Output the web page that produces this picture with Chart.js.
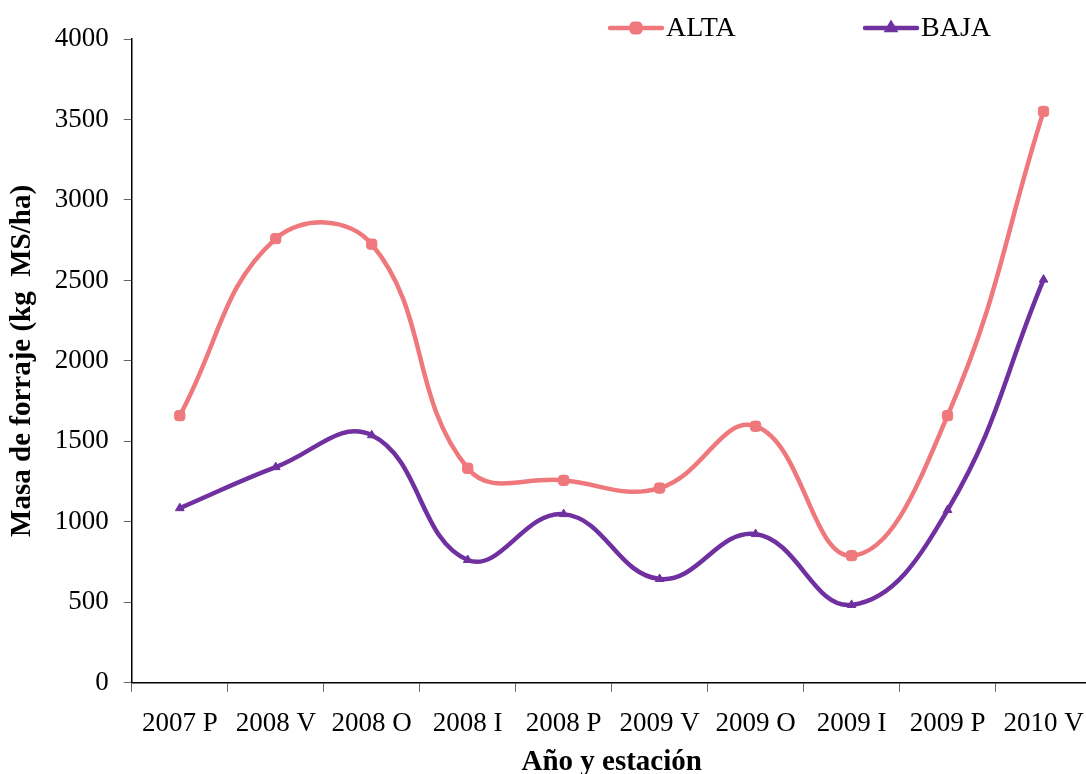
<!DOCTYPE html>
<html lang="es">
<head>
  <meta charset="UTF-8">
  <title>Masa de forraje</title>
  <script src="https://cdn.jsdelivr.net/npm/chart.js"></script>
  <style>
    body { margin: 0; background: #fff; overflow: hidden; }
    #wrap { width: 1100px; height: 774px; }
  </style>
</head>
<body>
  <div id="wrap"><canvas id="grafico" width="1100" height="774"></canvas></div>
  <script>
    const categorias = ["2007 P", "2008 V", "2008 O", "2008 I", "2008 P", "2009 V", "2009 O", "2009 I", "2009 P", "2010 V"];
    const alta = [1660, 2760, 2725, 1333, 1258, 1210, 1594, 790, 1660, 3550];
    const baja = [1085, 1340, 1538, 763, 1048, 645, 924, 484, 1073, 2505];
    const colorAlta = "#ef787c";
    const colorBaja = "#7030a0";
    const fuente = "'Liberation Serif', 'Times New Roman', serif";

    // leyenda dibujada a mano: linea + marcador + texto
    const leyenda = {
      id: "leyenda",
      afterDraw(chart) {
        const ctx = chart.ctx;
        const pos = [610, 865];
        chart.data.datasets.forEach((ds, i) => {
          const x = pos[i], y = 28;
          ctx.save();
          ctx.strokeStyle = ds.borderColor;
          ctx.lineWidth = 4.5;
          ctx.lineCap = "round";
          ctx.beginPath();
          ctx.moveTo(x, y);
          ctx.lineTo(x + 52, y);
          ctx.stroke();
          ctx.fillStyle = ds.borderColor;
          Chart.helpers.drawPoint(ctx, { pointStyle: ds.pointStyle, radius: ds.pointRadius - 1, rotation: 0, borderWidth: 1 }, x + 26, y);
          ctx.fillStyle = "#000";
          ctx.font = "28px " + fuente;
          ctx.textBaseline = "middle";
          ctx.fillText(ds.label, x + 56, y + 1);
          ctx.restore();
        });
      }
    };

    new Chart(document.getElementById("grafico"), {
      type: "line",
      data: {
        labels: categorias,
        datasets: [
          {
            label: "ALTA",
            data: alta,
            borderColor: colorAlta,
            backgroundColor: colorAlta,
            borderWidth: 4.5,
            tension: 0.42,
            pointStyle: "rectRounded",
            pointRadius: 6,
            pointBorderWidth: 1
          },
          {
            label: "BAJA",
            data: baja,
            borderColor: colorBaja,
            backgroundColor: colorBaja,
            borderWidth: 4.5,
            tension: 0.42,
            pointStyle: "triangle",
            pointRadius: 5,
            pointBorderWidth: 1
          }
        ]
      },
      options: {
        responsive: false,
        animation: false,
        layout: { padding: { top: 39, right: 0, left: 2, bottom: -6 } },
        plugins: {
          legend: { display: false },
          tooltip: { enabled: false }
        },
        scales: {
          x: {
            offset: true,
            grid: { display: true, drawOnChartArea: false, drawTicks: true, tickLength: 9, color: "#666", offset: true },
            border: { color: "#000", width: 1.5 },
            ticks: { color: "#000", font: { family: fuente, size: 27 }, padding: 16, maxRotation: 0 },
            title: { display: true, text: "Año y estación", color: "#000", font: { family: fuente, size: 29, weight: "bold" }, padding: { top: -11, bottom: 0 } }
          },
          y: {
            min: 0,
            max: 4000,
            ticks: { stepSize: 500, color: "#000", font: { family: fuente, size: 27 }, padding: 15, callback: v => String(v) },
            grid: { display: true, drawOnChartArea: false, drawTicks: true, tickLength: 8, color: "#666" },
            border: { color: "#000", width: 1.5 },
            title: { display: true, text: "Masa de forraje (kg  MS/ha)", color: "#000", font: { family: fuente, size: 29, weight: "bold" }, padding: { top: 3, bottom: 0 } }
          }
        }
      },
      plugins: [leyenda]
    });
  </script>
</body>
</html>
